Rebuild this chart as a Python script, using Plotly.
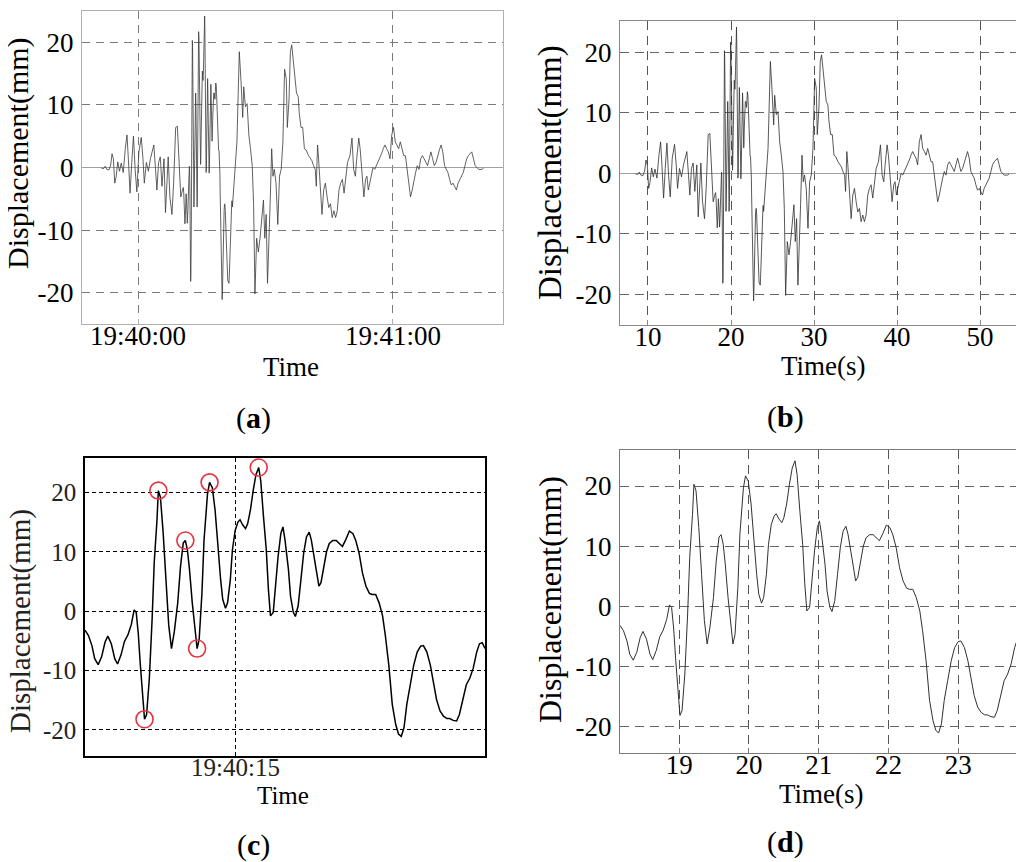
import pandas as pd
import plotly.graph_objects as go

# ---------------- data ----------------
# record before the zoomed window (s, mm)
T_EARLY = [8.51, 8.75, 8.95, 9.15, 9.39, 9.60, 9.76, 9.92, 10.08, 10.24, 10.44, 10.64, 10.84,
           11.08, 11.32, 11.52, 11.68, 11.88, 12.08, 12.28, 12.48, 12.68, 12.92, 13.20, 13.40,
           13.56, 13.80, 14.04, 14.28, 14.68, 14.88, 15.04, 15.24, 15.44, 15.64, 15.88, 16.05,
           16.21, 16.37, 16.57, 16.81, 17.01, 17.25, 17.45, 17.65, 17.85, 18.05]
V_EARLY = [-0.1, -0.2, 0.2, -0.3, -0.4, 0.4, 2.2, 1.4, -2.5, -1.5, 0.9, -0.6, 0.7,
           -0.8, 3.0, 5.2, 1.4, -4.1, 0.8, 5.0, -0.3, -3.9, 2.5, 4.8, 1.4,
           -2.5, 0.8, -0.6, 1.4, 3.6, -0.3, -3.6, 0.8, 1.7, -3.0, 1.4, -7.2,
           -3.6, 1.7, -4.7, -7.5, -2.5, 6.4, 6.6, 0.8, -4.7, -3.6]

# zoomed window 18.15 s - 23.93 s (panels c and d)
T_ZOOM = [18.15, 18.20, 18.25, 18.29, 18.34, 18.39, 18.44, 18.48, 18.53, 18.58, 18.62, 18.67,
          18.72, 18.77, 18.82, 18.86, 18.89, 18.92, 18.95, 18.99, 19.01, 19.04, 19.08, 19.12,
          19.15, 19.19, 19.21, 19.24, 19.28, 19.32, 19.36, 19.40, 19.44, 19.49, 19.53, 19.57,
          19.60, 19.63, 19.66, 19.70, 19.74, 19.77, 19.80, 19.84, 19.87, 19.92, 19.95, 19.99,
          20.03, 20.06, 20.11, 20.14, 20.18, 20.21, 20.25, 20.28, 20.32, 20.36, 20.39, 20.43,
          20.47, 20.50, 20.54, 20.58, 20.62, 20.66, 20.69, 20.73, 20.77, 20.80, 20.83, 20.87,
          20.90, 20.94, 20.98, 21.01, 21.04, 21.09, 21.12, 21.16, 21.19, 21.23, 21.27, 21.31,
          21.35, 21.39, 21.42, 21.46, 21.50, 21.53, 21.56, 21.60, 21.64, 21.68, 21.73, 21.78,
          21.83, 21.87, 21.92, 21.97, 22.02, 22.06, 22.11, 22.16, 22.21, 22.26, 22.30, 22.35,
          22.40, 22.45, 22.49, 22.54, 22.59, 22.64, 22.68, 22.72, 22.76, 22.80, 22.85, 22.90,
          22.95, 23.00, 23.04, 23.09, 23.14, 23.19, 23.23, 23.28, 23.33, 23.38, 23.42, 23.47,
          23.52, 23.56, 23.61, 23.66, 23.71, 23.76, 23.81, 23.85, 23.89, 23.93]
V_ZOOM = [-3.2, -4.1, -5.8, -8.0, -9.0, -7.7, -5.2, -4.2, -5.5, -8.0, -8.9, -7.4,
          -5.1, -4.0, -2.2, 0.2, -0.2, -3.8, -9.1, -14.6, -18.2, -17.4, -11.3, -1.3,
          8.1, 15.3, 20.3, 19.2, 13.1, 5.3, -2.4, -6.3, -3.5, 1.4, 7.5, 11.5,
          11.9, 10.3, 7.0, 1.4, -3.5, -6.3, -4.7, 3.1, 12.0, 19.7, 21.7, 20.8,
          17.0, 12.0, 5.3, 2.0, 0.5, 1.4, 5.3, 10.3, 13.6, 15.0, 15.4, 14.5,
          13.9, 14.7, 17.0, 20.3, 23.0, 24.2, 21.9, 15.8, 10.3, 3.7, -0.8, -0.2,
          4.2, 9.2, 13.1, 14.2, 12.0, 7.0, 2.5, -0.2, -0.9, 0.9, 5.3, 9.8,
          12.5, 13.3, 12.0, 9.2, 5.9, 4.2, 4.8, 7.5, 10.0, 11.4, 11.9, 11.9,
          11.3, 10.9, 12.1, 13.5, 13.1, 12.0, 9.8, 6.4, 4.2, 3.0, 2.8, 2.8,
          1.4, -0.8, -4.1, -9.1, -15.7, -19.1, -20.7, -21.1, -19.6, -15.7, -12.4, -9.1,
          -6.9, -5.9, -5.8, -6.9, -9.1, -12.4, -14.9, -16.8, -17.7, -18.1, -18.1, -18.4,
          -18.5, -17.4, -14.6, -12.4, -11.3, -9.6, -6.9, -5.5, -5.3, -6.3]

# record after the zoomed window
T_LATE = [24.46, 24.74, 24.94, 25.14, 25.26, 25.46, 25.66, 25.86, 26.06, 26.26, 26.42, 26.58,
          26.78, 26.98, 27.18, 27.38, 27.58, 27.74, 27.90, 28.06, 28.22, 28.38, 28.55, 28.70,
          28.86, 29.06, 29.27, 29.47, 29.67, 29.87, 30.07, 30.27, 30.39, 30.59, 30.75, 30.91,
          31.07, 31.27, 31.47, 31.67, 31.80, 32.00, 32.20, 32.40, 32.60, 32.88, 33.08, 33.28,
          33.48, 33.68, 33.80, 33.95, 34.07, 34.27, 34.47, 34.67, 34.87, 35.07, 35.27, 35.47,
          35.67, 35.87, 36.07, 36.27, 36.47, 36.67, 36.87, 37.07, 37.28, 37.48, 37.76, 38.00,
          38.20, 38.40, 38.56, 38.80, 38.96, 39.20, 39.40, 39.60, 39.76, 39.92, 40.08, 40.28,
          40.48, 40.68, 40.88, 41.08, 41.28, 41.48, 41.68, 41.88, 42.08, 42.28, 42.48, 42.68,
          42.89, 43.09, 43.29, 43.49, 43.69, 43.89, 44.09, 44.29, 44.49, 44.69, 44.89, 45.09,
          45.29, 45.49, 45.69, 45.89, 46.09, 46.29, 46.49, 46.69, 46.89, 47.09, 47.29, 47.49,
          47.69, 47.89, 48.09, 48.29, 48.49, 48.69, 48.89, 49.09, 49.29, 49.49, 49.69, 49.89,
          50.09, 50.29, 50.49, 50.70, 50.90, 51.10, 51.30, 51.50, 51.70, 51.90, 52.10, 52.30,
          52.50, 52.70, 52.90, 53.30, 53.50]
V_LATE = [4.1, 18.5, 13.8, 8.0, 12.9, 9.7, 10.2, 5.2, 3.0, 0.3, -5.8, -20.2,
          -11.3, -13.5, -11.3, -8.0, -5.2, -11.3, -7.5, -18.5, -13.0, -5.2, 3.0, -1.4,
          -0.3, -2.5, -9.1, -1.4, -0.3, 4.1, 15.7, 14.1, 6.4, 10.8, 18.5, 19.6,
          17.4, 14.1, 11.9, 11.3, 8.6, 6.4, 6.4, 3.0, 2.8, 1.9, 1.4, 1.1,
          0.3, -0.3, -3.0, 3.6, 1.4, -3.6, -7.5, -3.6, -2.5, -4.7, -6.4, -5.8,
          -8.0, -6.9, -8.0, -6.9, -3.6, -2.5, -1.9, -4.1, -1.4, 0.8, 1.9, 4.7,
          -0.3, -1.4, 1.4, 4.7, 3.0, -1.9, -4.7, -1.9, -1.4, -3.6, -2.5, -0.8,
          0.0, -0.3, 0.3, 0.8, 1.4, 2.2, 3.0, 3.6, 3.0, 2.5, 1.4, 5.2,
          6.4, 4.1, 3.6, 3.0, 4.1, 3.0, 1.9, 1.9, -0.3, -2.5, -4.7, -3.6,
          -1.9, -0.8, 0.3, -0.3, 1.4, 1.9, 1.4, 0.8, 0.3, 1.4, 2.5, 1.4,
          0.3, 0.8, 1.9, 2.8, 3.6, 2.5, 0.3, -0.3, -0.8, -1.9, -2.8, -2.5,
          -3.0, -3.6, -2.5, -1.9, -1.4, -0.8, 0.3, 1.4, 1.9, 2.2, 2.5, 1.4,
          0.3, 0.0, -0.3, -0.3, -0.1]

# indices (into T_ZOOM / V_ZOOM) of the extrema circled in panel (c)
CIRCLED_IDX = [20, 26, 36, 41, 46, 65]

# clock time of the record: clock = CLOCK_SCALE * t + CLOCK_OFFSET_S (s after 19:40:00)
CLOCK_BASE = pd.Timestamp("2012-01-01 19:40:00")
CLOCK_SCALE = 2.0
CLOCK_OFFSET_S = -25.65

Y_TICKS = [-20, -10, 0, 10, 20]
Y_TICK_TEXT = ["-20", "-10", "0", "10", "20"]
B_X_TICKS = [10, 20, 30, 40, 50]
D_X_TICKS = [19, 20, 21, 22, 23]

# ---------------- derived series ----------------
t_all = T_EARLY + T_ZOOM + T_LATE
v_all = V_EARLY + V_ZOOM + V_LATE


def to_clock(ts):
    return [CLOCK_BASE + pd.Timedelta(seconds=CLOCK_SCALE * t + CLOCK_OFFSET_S) for t in ts]


clock_all = to_clock(t_all)
clock_zoom = to_clock(T_ZOOM)

FONT = "Liberation Serif, Times New Roman, serif"
W, H = 1024, 862


def dom_x(a, b):
    return [a / W, b / W]


def dom_y(top, bottom):
    return [1 - bottom / H, 1 - top / H]


fig = go.Figure()

# (a)
fig.add_trace(go.Scatter(x=clock_all, y=v_all, mode="lines", xaxis="x", yaxis="y",
                         line=dict(color="#3a3a3a", width=0.8), showlegend=False))
# (b)
fig.add_trace(go.Scatter(x=t_all, y=v_all, mode="lines", xaxis="x2", yaxis="y2",
                         line=dict(color="#2e2e2e", width=0.8), showlegend=False))
# (c)
fig.add_trace(go.Scatter(x=clock_zoom, y=V_ZOOM, mode="lines", xaxis="x3", yaxis="y3",
                         line=dict(color="black", width=1.5), showlegend=False))
fig.add_trace(go.Scatter(x=[clock_zoom[i] for i in CIRCLED_IDX], y=[V_ZOOM[i] for i in CIRCLED_IDX],
                         mode="markers", xaxis="x3", yaxis="y3",
                         marker=dict(symbol="circle-open", size=17, color="#e8333f",
                                     line=dict(width=1.6, color="#e8333f")),
                         showlegend=False))
# (d)
fig.add_trace(go.Scatter(x=T_ZOOM, y=V_ZOOM, mode="lines", xaxis="x4", yaxis="y4",
                         line=dict(color="#303030", width=1.0), showlegend=False))

TICK_SIZE = 27
tickfont = dict(family=FONT, size=TICK_SIZE, color="black")


def clock_range(s0, s1):
    return [CLOCK_BASE + pd.Timedelta(seconds=s0), CLOCK_BASE + pd.Timedelta(seconds=s1)]


def xaxis(domain, anchor, rng, grid_color, dash, line_color, lw=1, **kw):
    d = dict(domain=domain, anchor=anchor, range=rng, showgrid=True, gridcolor=grid_color,
             griddash=dash, gridwidth=1, showline=True, linecolor=line_color, linewidth=lw,
             mirror=True, zeroline=False, tickfont=tickfont, ticks="inside", ticklen=5,
             tickcolor=line_color, ticklabelstandoff=-12)
    d.update(kw)
    return d


def yaxis(domain, anchor, rng, grid_color, dash, line_color, lw=1, zl=True, **kw):
    d = dict(domain=domain, anchor=anchor, range=rng, showgrid=True, gridcolor=grid_color,
             griddash=dash, gridwidth=1, showline=True, linecolor=line_color, linewidth=lw,
             mirror=True, zeroline=zl, zerolinecolor="#a0a0a0", zerolinewidth=1,
             tickvals=Y_TICKS, ticktext=Y_TICK_TEXT, tickfont=tickfont, ticks="",
             ticklabelstandoff=2)
    d.update(kw)
    return d


fig.update_layout(
    width=W, height=H, margin=dict(l=0, r=0, t=0, b=0),
    paper_bgcolor="white", plot_bgcolor="white",
    font=dict(family=FONT, color="black"),
    xaxis=xaxis(dom_x(74, 495), "y", clock_range(-13.2, 85.9), "#7a7a7a", "8px,6px", "#b0b0b0",
                type="date", tick0=CLOCK_BASE, dtick=60000, tickformat="%H:%M:%S"),
    yaxis=yaxis(dom_y(3, 316), "x", [-25.0, 25.0], "#7a7a7a", "8px,6px", "#b0b0b0"),
    xaxis2=xaxis(dom_x(612, 1019), "y2", [6.63, 55.65], "#555555", "9px,6px", "#8a8a8a",
                 tickvals=B_X_TICKS),
    yaxis2=yaxis(dom_y(13, 317), "x2", [-25.1, 25.2], "#666666", "9px,6px", "#8a8a8a"),
    xaxis3=xaxis(dom_x(77, 477), "y3", [clock_zoom[0], clock_zoom[-1]], "black", "4px,3px", "black",
                 lw=1.5, type="date", tick0=CLOCK_BASE, dtick=15000, tickformat="%H:%M:%S",
                 ticks="", ticklabelstandoff=-12, tickfont=dict(family=FONT, size=25, color="#222")),
    yaxis3=yaxis(dom_y(450, 748), "x3", [-24.4, 25.8], "black", "4px,3px", "black", lw=1.5, zl=False,
                 tickfont=dict(family=FONT, size=25, color="#222")),
    xaxis4=xaxis(dom_x(612, 1015), "y4", [T_ZOOM[0], T_ZOOM[-1]], "#555555", "9px,6px", "#7a7a7a",
                 tickvals=D_X_TICKS),
    yaxis4=yaxis(dom_y(442, 745), "x4", [-24.45, 26.0], "#666666", "9px,6px", "#7a7a7a", zl=False),
)

# axis titles (placed as text next to each panel)
Y_TITLE = "Displacement(mm)"
for x, y, size, col in [(10, 145, 30, "black"), (542, 165, 33, "black"),
                        (12, 613, 29, "#222"), (542, 592, 32, "black")]:
    fig.add_annotation(text=Y_TITLE, x=x / W, y=1 - y / H, xref="paper", yref="paper",
                       textangle=-90, showarrow=False, xanchor="center", yanchor="middle",
                       font=dict(family=FONT, size=size, color=col))
for txt, x, y, size in [("Time", 283, 359, 27), ("Time(s)", 815, 358, 27),
                        ("Time", 275, 787, 25), ("Time(s)", 813, 786, 27)]:
    fig.add_annotation(text=txt, x=x / W, y=1 - y / H, xref="paper", yref="paper",
                       showarrow=False, xanchor="center", yanchor="middle",
                       font=dict(family=FONT, size=size, color="black"))

for lab, x, y in [("a", 245, 410), ("b", 777, 409), ("c", 245, 837), ("d", 777, 834)]:
    fig.add_annotation(text=f"(<b>{lab}</b>)", x=x / W, y=1 - y / H, xref="paper", yref="paper",
                       showarrow=False, xanchor="center", yanchor="middle",
                       font=dict(family=FONT, size=30, color="black"))

fig.write_html("out.html")
